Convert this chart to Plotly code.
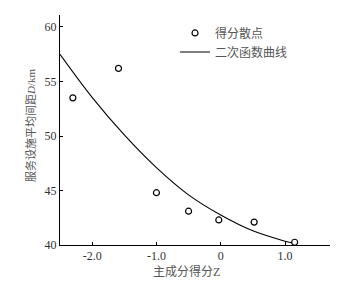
import plotly.graph_objects as go

# scatter data
score_z = [-2.30, -1.59, -1.00, -0.50, -0.03, 0.52, 1.15]
distance_d = [53.5, 56.2, 44.8, 43.1, 42.3, 42.1, 40.25]

# quadratic curve samples
curve_z = [-2.5, -2.0, -1.5, -1.0, -0.5, 0.0, 0.5, 1.0, 1.1]
curve_d = [57.5, 53.55, 50.1, 47.1, 44.6, 42.75, 41.3, 40.35, 40.2]

x_tickvals = [-2.0, -1.0, 0.0, 1.0]
x_ticktext = ["-2.0", "-1.0", "0", "1.0"]
y_tickvals = [40, 45, 50, 55, 60]
y_ticktext = ["40", "45", "50", "55", "60"]

FONT = "Liberation Serif, Noto Sans CJK SC"

fig = go.Figure()
fig.add_trace(go.Scatter(
    x=score_z, y=distance_d, mode="markers", name="得分散点",
    marker=dict(symbol="circle-open", size=6, color="black", line=dict(width=1.2)),
    cliponaxis=False,
))
fig.add_trace(go.Scatter(
    x=curve_z, y=curve_d, mode="lines", name="二次函数曲线",
    line=dict(color="black", width=1.1, shape="spline"),
))

fig.update_layout(
    width=364, height=284,
    margin=dict(l=52, r=42, t=7, b=47),
    paper_bgcolor="white", plot_bgcolor="white",
    font=dict(family=FONT, size=12, color="#444"),
    showlegend=True,
    legend=dict(x=0.426, y=0.985, xanchor="left", yanchor="top",
                bgcolor="rgba(0,0,0,0)", font=dict(size=12, color="#555"),
                tracegroupgap=0, itemwidth=30),
    xaxis=dict(
        range=[-2.5, 1.7], showgrid=False, zeroline=False, automargin=False,
        showline=True, linecolor="black", linewidth=1,
        ticks="inside", ticklen=3, tickcolor="black",
        tickvals=x_tickvals, ticktext=x_ticktext,
        tickfont=dict(size=12, color="#333"),
    ),
    yaxis=dict(
        range=[40, 61.1], showgrid=False, zeroline=False, automargin=False,
        showline=True, linecolor="black", linewidth=1,
        ticks="inside", ticklen=3, tickcolor="black",
        tickvals=y_tickvals, ticktext=y_ticktext,
        tickfont=dict(size=12, color="#333"),
    ),
    annotations=[
        dict(text="主成分得分Z", xref="paper", yref="paper", x=0.467, y=-0.117,
             xanchor="center", yanchor="middle", showarrow=False,
             font=dict(size=12, color="#555")),
        dict(text="服务设施平均间距<i>D</i>/km", xref="paper", yref="paper",
             x=-0.107, y=0.522, xanchor="center", yanchor="middle", textangle=-90,
             showarrow=False, font=dict(size=11, color="#555")),
    ],
)

fig.write_html("out.html")
